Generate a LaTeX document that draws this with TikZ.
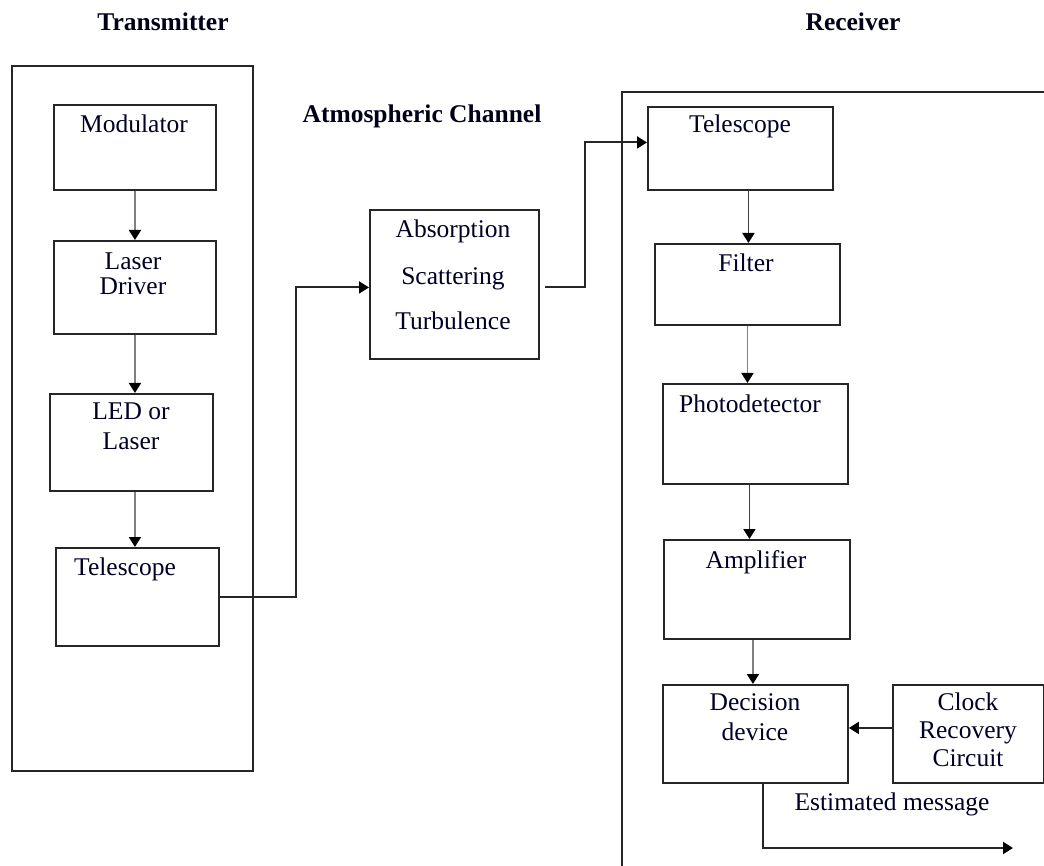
\documentclass[tikz,border=0pt]{standalone}
\usepackage{fontspec}
\setmainfont{Liberation Serif}
\usetikzlibrary{arrows.meta}
\begin{document}
\begin{tikzpicture}[x=1pt,y=-1pt,
 box/.style={draw=black!85,line width=1.9pt,inner sep=0pt,anchor=north west},
 txt/.style={anchor=base,inner sep=0pt,text=black!85!blue,font=\fontsize{25.5}{28}\selectfont},
 ttl/.style={anchor=base,inner sep=0pt,text=black!90!blue,font=\fontsize{25.5}{28}\selectfont\bfseries},
 con/.style={line width=1.9pt,draw=black!85},
 arr/.style={con,-{Triangle[length=10pt,width=12pt,color=black]}},
 garr/.style={arr,draw=black!50}]
\useasboundingbox (0,0) rectangle (1044,866);
% titles
\node[ttl] (ttx) at (163,31) {Transmitter};
\node[ttl] (trx) at (853,31) {Receiver};
\node[ttl] (tch) at (422,123) {Atmospheric Channel};
% transmitter
\node[box,minimum width=241pt,minimum height=705pt] (txbox) at (11,65) {};
\node[box,minimum width=162pt,minimum height=85pt] (mod) at (53,104) {};
\node[box,minimum width=162pt,minimum height=93pt] (ld) at (53,240) {};
\node[box,minimum width=163pt,minimum height=97pt] (led) at (49,393) {};
\node[box,minimum width=163pt,minimum height=98pt] (txtel) at (55,547) {};
\node[txt] (tmod) at (134,133) {Modulator};
\node[txt] (tld1) at (133,270) {Laser};
\node[txt] (tld2) at (133,295) {Driver};
\node[txt] (tled1) at (131,420) {LED or};
\node[txt] (tled2) at (131,449) {Laser};
\node[txt] (ttxtel) at (125,575) {Telescope};
% channel
\node[box,minimum width=169pt,minimum height=149pt] (abs) at (369,209) {};
\node[txt] (tab1) at (453,238) {Absorption};
\node[txt] (tab2) at (453,285) {Scattering};
\node[txt] (tab3) at (453,330) {Turbulence};
% receiver
\coordinate (rxa) at (1044,92);
\coordinate (rxb) at (622,92);
\coordinate (rxc) at (622,866);
\draw[con] (rxa) -- (rxb) -- (rxc);
\node[box,minimum width=185pt,minimum height=83pt] (rxtel) at (647,106) {};
\node[box,minimum width=185pt,minimum height=81pt] (fil) at (654,243) {};
\node[box,minimum width=185pt,minimum height=100pt] (pd) at (662,383) {};
\node[box,minimum width=186pt,minimum height=99pt] (amp) at (663,539) {};
\node[box,minimum width=185pt,minimum height=98pt] (dec) at (662,684) {};
\node[box,minimum width=151pt,minimum height=98pt] (clk) at (892,684) {};
\node[txt] (trxtel) at (740,133) {Telescope};
\node[txt] (tfil) at (746,272) {Filter};
\node[txt] (tpd) at (750,412) {Photodetector};
\node[txt] (tamp) at (756,568) {Amplifier};
\node[txt] (tdec1) at (755,710) {Decision};
\node[txt] (tdec2) at (755,740) {device};
\node[txt] (tclk1) at (968,710) {Clock};
\node[txt] (tclk2) at (968,738) {Recovery};
\node[txt] (tclk3) at (968,766) {Circuit};
\node[txt] (tmsg) at (892,810) {Estimated message};
% transmitter arrows
\draw[garr] (mod.south) -- (mod.south |- ld.north);
\draw[garr] (ld.south) -- (ld.south |- led.north);
\draw[garr] (ld.south |- led.south) -- (ld.south |- txtel.north);
\draw[arr] (txtel.east) -- ++(76,0) |- ([yshift=-3pt]abs.west);
\draw[arr] ([xshift=5pt,yshift=-3pt]abs.east) -- ++(40,0) |- ([yshift=6pt]rxtel.west);
% receiver arrows
\draw[arr,draw=black!75] ([xshift=8pt]rxtel.south) -- ([xshift=8pt]rxtel.south |- fil.north);
\draw[garr] (fil.south) -- (fil.south |- pd.north);
\draw[arr,draw=black!75] ([xshift=-6pt]pd.south) -- ([xshift=-6pt]pd.south |- amp.north);
\draw[garr] ([xshift=-4pt]amp.south) -- ([xshift=-4pt]amp.south |- dec.north);
\draw[arr] ([yshift=6pt]clk.west) -- ([yshift=6pt]dec.east);
\coordinate (msgend) at (1013,848);
\draw[arr] ([xshift=7.5pt]dec.south) |- (msgend);
\end{tikzpicture}
\end{document}
